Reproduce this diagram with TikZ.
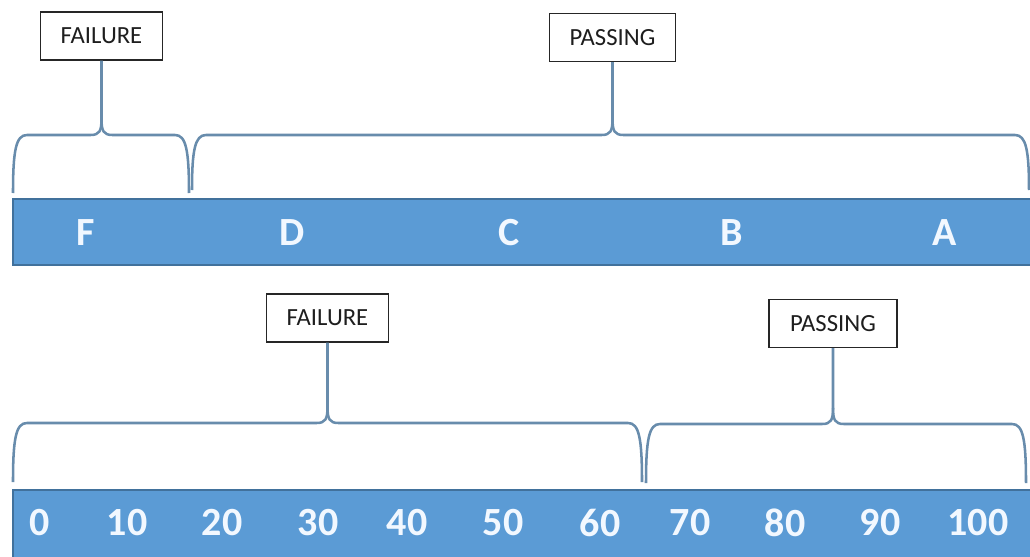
\documentclass[tikz,border=0pt]{standalone}
\usepackage{fontspec}
\setmainfont{Carlito}
\definecolor{barblue}{RGB}{91,155,213}
\definecolor{barline}{RGB}{65,113,156}
\definecolor{bracec}{RGB}{104,140,172}
\definecolor{txtw}{RGB}{242,248,255}
\definecolor{boxtxt}{RGB}{30,30,30}
\tikzset{
  bracestyle/.style={draw=bracec, line width=1.9pt, line join=round},
  labelbox/.style={draw=black!85, line width=0.9pt, fill=white, text=boxtxt,
    font=\fontsize{18.5}{21}\selectfont, minimum height=36pt, inner sep=0pt},
  barstyle/.style={fill=barblue, draw=barline, line width=0.8pt},
  bartext/.style={text=txtw, font=\fontsize{30}{33}\selectfont\bfseries, inner sep=0pt, anchor=center}
}
\newcommand\mybrace[6]{%
  \draw[bracestyle] (#1.south) -- (#4,#5-16) .. controls (#4,#5-4) and (#4-2,#5) .. (#4-11,#5) -- (#2+14,#5) .. controls (#2+3,#5) and (#2,#5+15) .. (#2,#6);
  \draw[bracestyle] (#4,#5-16) .. controls (#4,#5-4) and (#4+2,#5) .. (#4+11,#5) -- (#3-14,#5) .. controls (#3-3,#5) and (#3,#5+15) .. (#3,#6);
}
\begin{document}
\begin{tikzpicture}[x=0.75pt, y=-0.75pt]
\useasboundingbox (0,0) rectangle (1030,556);
\clip (0,0) rectangle (1030,556);
% bars
\path[barstyle] (13,199) rectangle (1036,265);
\path[barstyle] (13,490) rectangle (1036,560);
% top bar letters
\node[bartext] (lF) at (86,233) {F};
\node[bartext] (lD) at (292,233) {D};
\node[bartext] (lC) at (509,233) {C};
\node[bartext] (lB) at (732,233) {B};
\node[bartext] (lA) at (945,233) {A};
% bottom bar numbers
\node[bartext] (n0) at (40,523) {0};
\node[bartext] (n10) at (127,523) {10};
\node[bartext] (n20) at (222,523) {20};
\node[bartext] (n30) at (318,523) {30};
\node[bartext] (n40) at (407,523) {40};
\node[bartext] (n50) at (503,523) {50};
\node[bartext] (n60) at (600,523) {60};
\node[bartext] (n70) at (690,523) {70};
\node[bartext] (n80) at (785,523) {80};
\node[bartext] (n90) at (880,523) {90};
\node[bartext] (n100) at (978,523) {100};
% label boxes
\node[labelbox, minimum width=91pt] (tfail) at (101.5,36) {FAILURE};
\node[labelbox, minimum width=95pt] (tpass) at (612.5,37.5) {PASSING};
\node[labelbox, minimum width=91pt] (bfail) at (327.5,318) {FAILURE};
\node[labelbox, minimum width=96pt] (bpass) at (833,323.5) {PASSING};
% braces
\mybrace{tfail}{13}{189}{101.5}{135}{193}
\mybrace{tpass}{192}{1029}{612.5}{135}{190}
\mybrace{bfail}{13}{642}{327.5}{423}{482}
\mybrace{bpass}{646}{1026}{833}{424}{483}
\end{tikzpicture}
\end{document}
